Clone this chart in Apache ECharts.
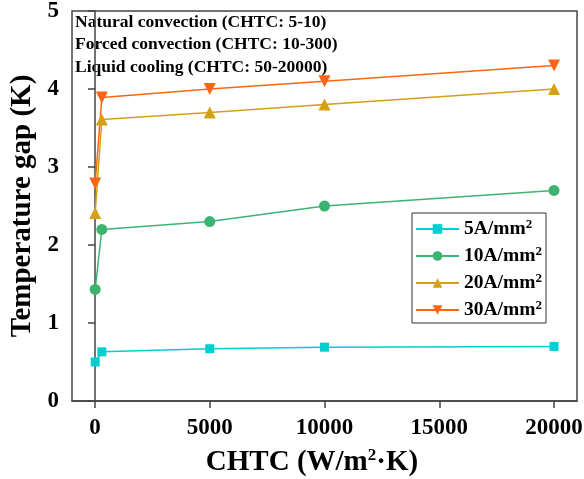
<!DOCTYPE html>
<html>
<head>
<meta charset="utf-8">
<script src="https://cdn.jsdelivr.net/npm/echarts@6/dist/echarts.min.js"></script>
<style>
  html, body { margin: 0; padding: 0; background: #fff; }
  #chart { width: 584px; height: 479px; }
</style>
</head>
<body>
<div id="chart"></div>
<script>
// CHTC values (W/m2.K)
const chtc = [10, 300, 5000, 10000, 20000];
const xTicks = [0, 5000, 10000, 15000, 20000];
const currents = [5, 10, 20, 30]; // A/mm2
const gap5 = [0.50, 0.63, 0.67, 0.69, 0.70];
const gap10 = [1.43, 2.20, 2.30, 2.50, 2.70];
const gap20 = [2.41, 3.61, 3.70, 3.80, 4.00];
const gap30 = [2.79, 3.89, 4.00, 4.10, 4.30];
const notes = [
    'Natural convection (CHTC: 5-10)',
    'Forced convection (CHTC: 10-300)',
    'Liquid cooling (CHTC: 50-20000)'
];

const serif = '"Liberation Serif", "Times New Roman", serif';
const colors = ['#00CED1', '#3CB371', '#D4A017', '#FF6414'];
const symbols = ['rect', 'circle', 'triangle', 'triangle'];
const sizes = [9, 11, 12, 12];
const allGaps = [gap5, gap10, gap20, gap30];

const chart = echarts.init(document.getElementById('chart'));

chart.setOption({
    animation: false,
    grid: {
        left: 72, right: 7, top: 11, bottom: 78,
        outerBoundsMode: 'none',
        containLabel: false,
        show: true, borderColor: '#444', borderWidth: 1.5
    },
    legend: {
        orient: 'vertical',
        left: 412, top: 213,
        padding: [5, 4, 2, 3],
        itemGap: 5,
        itemWidth: 43,
        itemHeight: 12,
        borderColor: '#333',
        borderWidth: 1,
        formatter: name => name.replace(/2$/, '{sup|2}'),
        textStyle: {
            fontFamily: serif, fontWeight: 'bold', fontSize: 19.5, color: '#000',
            lineHeight: 22,
            rich: {
                sup: { fontFamily: serif, fontWeight: 'bold', fontSize: 13, verticalAlign: 'top', lineHeight: 13 }
            }
        }
    },
    xAxis: {
        type: 'value',
        min: -1000, max: 21000,
        name: 'CHTC (W/m{sup|2}·K)',
        nameLocation: 'middle',
        nameGap: 46,
        nameTextStyle: {
            fontFamily: serif, fontWeight: 'bold', fontSize: 29, color: '#000',
            lineHeight: 32,
            padding: [0, 25, 0, 0],
            rich: {
                sup: { fontFamily: serif, fontWeight: 'bold', fontSize: 17, verticalAlign: 'top', lineHeight: 17 }
            }
        },
        axisLine: { onZero: false, lineStyle: { color: '#444', width: 1.5 } },
        axisTick: { customValues: xTicks, length: 7, lineStyle: { color: '#444', width: 1.5 } },
        axisLabel: {
            customValues: xTicks, margin: 16,
            formatter: v => String(v),
            fontFamily: serif, fontWeight: 'bold', fontSize: 23, color: '#000'
        },
        splitLine: { show: false }
    },
    yAxis: {
        type: 'value',
        min: 0, max: 5, interval: 1,
        name: 'Temperature gap (K)',
        nameLocation: 'middle',
        nameGap: 30,
        nameTextStyle: { fontFamily: serif, fontWeight: 'bold', fontSize: 29, color: '#000' },
        axisLine: { show: true, lineStyle: { color: '#444', width: 1.5 } },
        axisTick: { show: true, length: 7, lineStyle: { color: '#444', width: 1.5 } },
        axisLabel: { margin: 13, fontFamily: serif, fontWeight: 'bold', fontSize: 23, color: '#000' },
        splitLine: { show: false }
    },
    graphic: notes.map((t, i) => ({
        type: 'text',
        x: 75, y: 22 + i * 22.5,
        style: {
            text: t, fill: '#000',
            font: 'bold 17.5px ' + serif,
            verticalAlign: 'middle'
        }
    })),
    series: currents.map((c, i) => ({
        name: c + 'A/mm2',
        type: 'line',
        data: chtc.map((x, j) => [x, allGaps[i][j]]),
        symbol: symbols[i],
        symbolSize: sizes[i],
        symbolRotate: i === 3 ? 180 : 0,
        itemStyle: { color: colors[i] },
        lineStyle: { color: colors[i], width: 1.5 }
    }))
});
</script>
</body>
</html>
